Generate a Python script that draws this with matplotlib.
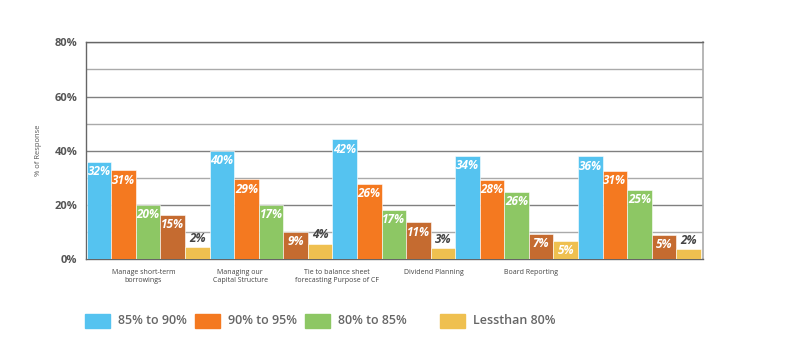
import numpy as np
import matplotlib
matplotlib.use('Agg')
import matplotlib.pyplot as plt
from matplotlib.patches import Rectangle

# values (bar heights as drawn, labels as printed)
categories = ['Manage short-term\nborrowings', 'Managing our\nCapital Structure',
              'Tie to balance sheet\nforecasting Purpose of CF', 'Dividend Planning',
              'Board Reporting']
s_85_90 = [36, 40, 44.3, 38.1, 37.9]
s_90_95 = [32.8, 29.4, 27.7, 29.3, 32.6]
s_80_85 = [20, 20, 18.1, 24.8, 25.6]
s_other = [16.4, 10, 13.5, 9.3, 8.9]
s_lt_80 = [4.3, 5.7, 4.2, 6.7, 3.7]
lab_85_90 = [32, 40, 42, 34, 36]
lab_90_95 = [31, 29, 26, 28, 31]
lab_80_85 = [20, 17, 17, 26, 25]
lab_other = [15, 9, 11, 7, 5]
lab_lt_80 = [2, 4, 3, 5, 2]

heights = [s_85_90, s_90_95, s_80_85, s_other, s_lt_80]
labels = [lab_85_90, lab_90_95, lab_80_85, lab_other, lab_lt_80]
colors = ['#55C3F0', '#F47920', '#8DC764', '#C56B30', '#EFC050']

plt.rcParams['font.family'] = ['Open Sans', 'DejaVu Sans']

fig = plt.figure(figsize=(8, 3.5), dpi=100)
ax = fig.add_axes([0.107, 0.26, 0.772, 0.619])

x = np.arange(len(categories))
w = 0.2
for j in range(5):
    pos = x + (j - 2) * w
    bars = ax.bar(pos, heights[j], width=w, color=colors[j], edgecolor='white',
                  linewidth=0.4, zorder=3)
    for b, lab in zip(bars, labels[j]):
        h = b.get_height()
        cx = b.get_x() + b.get_width() / 2
        if h < 6:
            ax.annotate(f'{lab}%', (cx, h), xytext=(0, 1.5), textcoords='offset points',
                        ha='center', va='bottom', color='#444444', fontsize=8.5,
                        fontweight='bold', fontstyle='italic', zorder=4)
        else:
            ax.annotate(f'{lab}%', (cx, h), xytext=(0, -2.5), textcoords='offset points',
                        ha='center', va='top', color='white', fontsize=8.5,
                        fontweight='bold', fontstyle='italic', zorder=4)

ax.set_xlim(-0.51, 4.52)
ax.set_ylim(0, 80)
ax.set_yticks(np.arange(0, 81, 20))
ax.set_yticklabels([f'{v}%' for v in range(0, 81, 20)], fontsize=8,
                   fontweight='bold', color='#555555')
ax.set_yticks(np.arange(10, 80, 20), minor=True)
ax.tick_params(axis='y', which='both', length=0, pad=6)
ax.grid(axis='y', which='major', color='#808080', linewidth=1, zorder=0)
ax.grid(axis='y', which='minor', color='#aaaaaa', linewidth=1, zorder=0)

# category labels sit to the left of their bar groups in the reference
ax.set_xticks(x * 0.79 - 0.04)
ax.set_xticklabels(categories, fontsize=5, color='#444444', linespacing=1.35)
ax.tick_params(axis='x', length=0, pad=7)

ax.set_ylabel('% of Response', fontsize=5.5, color='#555555', labelpad=9)

for s in ['left', 'bottom', 'top']:
    ax.spines[s].set_color('#666666')
    ax.spines[s].set_linewidth(1)
ax.spines['right'].set_color('#aaaaaa')
ax.spines['right'].set_linewidth(1.2)

# legend built by hand to keep the uneven spacing of the reference
leg_x = [85, 195, 305, 440]
leg_names = ['85% to 90%', '90% to 95%', '80% to 85%', 'Lessthan 80%']
leg_cols = [colors[0], colors[1], colors[2], colors[4]]
for lx, name, c in zip(leg_x, leg_names, leg_cols):
    fig.add_artist(Rectangle((lx / 800, 1 - 327.5 / 350), 25 / 800, 13.5 / 350,
                             transform=fig.transFigure, color=c))
    fig.text((lx + 33) / 800, 1 - 321 / 350, name, fontsize=9, fontweight='semibold',
             color='#666666', va='center', ha='left')

fig.savefig('out.png', dpi=100)
